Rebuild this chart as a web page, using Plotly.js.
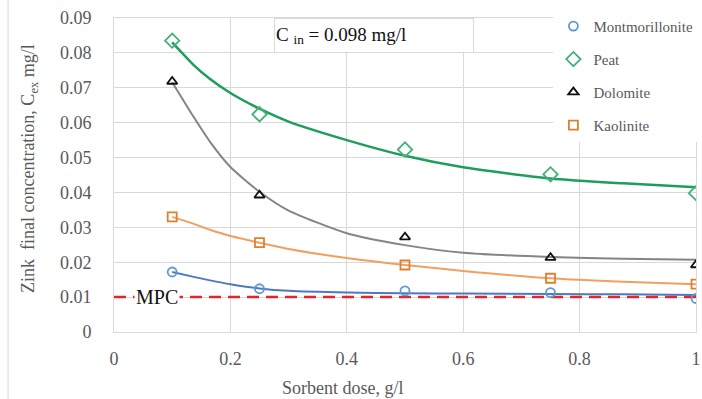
<!DOCTYPE html>
<html>
<head>
<meta charset="utf-8">
<script src="https://cdn.plot.ly/plotly-3.0.1.min.js"></script>
<style>html,body{margin:0;padding:0;background:#fff;}#chart{width:702px;height:399px;}</style>
</head>
<body>
<div id="chart"></div>
<script>
// Measured points
const doses = [0.1, 0.25, 0.5, 0.75, 1];
const montmorillonite = [0.0172, 0.0124, 0.0118, 0.0113, 0.0096];
const peat = [0.0835, 0.0624, 0.0523, 0.0452, 0.0398];
const dolomite = [0.0718, 0.0392, 0.0272, 0.0213, 0.0192];
const kaolinite = [0.0330, 0.0256, 0.0192, 0.0154, 0.0137];

// Fitted curves
const curveX = [0.1, 0.137, 0.165, 0.2, 0.25, 0.3, 0.4, 0.5, 0.6, 0.75, 0.875, 1];
const montCurve = [0.0172, 0.0158, 0.0148, 0.0137, 0.0125, 0.0118, 0.0113, 0.0111, 0.0110, 0.0109, 0.0108, 0.0106];
const peatCurve = [0.0830, 0.0765, 0.0725, 0.0685, 0.0640, 0.0603, 0.0550, 0.0505, 0.0472, 0.0440, 0.0426, 0.0415];
const doloCurve = [0.0716, 0.0616, 0.0545, 0.0473, 0.0402, 0.0348, 0.0283, 0.0249, 0.0227, 0.0215, 0.0210, 0.0207];
const kaolCurve = [0.0330, 0.0310, 0.0293, 0.0275, 0.0256, 0.0238, 0.0212, 0.0192, 0.0175, 0.0154, 0.0144, 0.0137];

const mpcX = [0, 1];
const mpcY = [0.01, 0.01];

const xTicks = [0, 0.2, 0.4, 0.6, 0.8, 1];
const xTickText = ['0', '0.2', '0.4', '0.6', '0.8', '1'];
const yTicks = [0, 0.01, 0.02, 0.03, 0.04, 0.05, 0.06, 0.07, 0.08, 0.09];
const yTickText = ['0', '0.01', '0.02', '0.03', '0.04', '0.05', '0.06', '0.07', '0.08', '0.09'];

const serif = "Liberation Serif";

function curve(x, y, color, width) {
  return {x: x, y: y, mode: 'lines', line: {color: color, width: width, shape: 'spline', smoothing: 0.6},
          showlegend: false, hoverinfo: 'skip'};
}
function pts(name, y, symbol, color, size, group) {
  return {x: doses, y: y, name: name, mode: 'markers', legendgroup: group,
          marker: {symbol: symbol, size: size, color: color, line: {color: color, width: 1.8}}};
}

const data = [
  {x: mpcX, y: mpcY, mode: 'lines', line: {color: '#E3262B', width: 2.5, dash: '12px,7px'}, showlegend: false, hoverinfo: 'skip'},
  curve(curveX, montCurve, '#4F78C0', 2),
  curve(curveX, peatCurve, '#1E9E5A', 2.5),
  curve(curveX, doloCurve, '#858585', 2),
  curve(curveX, kaolCurve, '#F0A060', 2),
  pts('Montmorillonite', montmorillonite, 'circle-open', '#5B9BD5', 9, 'a'),
  pts('Peat', peat, 'diamond-open', '#46B07A', 11, 'b'),
  pts('Dolomite', dolomite, 'triangle-up-open', '#111111', 9, 'c'),
  pts('Kaolinite', kaolinite, 'square-open', '#E0802E', 9, 'd')
];

const layout = {
  width: 702, height: 399,
  margin: {l: 114, r: 6, t: 18, b: 67, autoexpand: false},
  paper_bgcolor: '#ffffff', plot_bgcolor: '#ffffff',
  font: {family: serif, color: '#595959', size: 18},
  showlegend: true,
  legend: {x: 0.755, y: 1.026, xanchor: 'left', yanchor: 'top', bgcolor: '#ffffff',
           font: {family: serif, size: 15, color: '#595959'}, traceorder: 'grouped', tracegroupgap: 10.5,
           itemwidth: 30},
  xaxis: {range: [0, 1], tickvals: xTicks, ticktext: xTickText, showgrid: true, gridcolor: '#D9D9D9',
          zeroline: false, showline: true, mirror: true, linecolor: '#D9D9D9', linewidth: 1,
          ticks: 'outside', ticklen: 10, tickcolor: 'rgba(0,0,0,0)', automargin: false,
          tickfont: {family: serif, size: 18, color: '#595959'}, fixedrange: true},
  yaxis: {range: [0, 0.09], tickvals: yTicks, ticktext: yTickText, showgrid: true, gridcolor: '#D9D9D9',
          zeroline: false, showline: true, mirror: true, linecolor: '#D9D9D9', linewidth: 1,
          ticks: 'outside', ticklen: 18, tickcolor: 'rgba(0,0,0,0)', automargin: false,
          tickfont: {family: serif, size: 18, color: '#595959'}, fixedrange: true},
  shapes: [
    {type: 'line', xref: 'paper', yref: 'paper', x0: -0.182, x1: -0.182, y0: -0.3, y1: 1.1,
     line: {color: '#D9D9D9', width: 1}}
  ],
  annotations: [
    {text: 'MPC', x: 0.074, y: 0.01, xref: 'x', yref: 'y', showarrow: false, bgcolor: '#ffffff',
     font: {family: serif, size: 20, color: '#111111'}, borderpad: 1},
    {text: 'C <sub>in</sub> = 0.098 mg/l', xref: 'paper', yref: 'paper', x: 0.275, y: 1.0,
     xanchor: 'left', yanchor: 'top', showarrow: false, width: 196, height: 31, align: 'left',
     bgcolor: '#ffffff', bordercolor: '#D9D9D9', borderwidth: 1, borderpad: 1,
     font: {family: serif, size: 19, color: '#111111'}},
    {text: 'Sorbent dose, g/l', xref: 'paper', yref: 'paper', x: 0.393, y: -0.178,
     xanchor: 'center', yanchor: 'middle', showarrow: false,
     font: {family: serif, size: 18, color: '#595959'}},
    {text: 'Zink  final concentration, C<sub>ex</sub> mg/l', xref: 'paper', yref: 'paper', x: -0.146, y: 0.519,
     xanchor: 'center', yanchor: 'middle', textangle: -90, showarrow: false,
     font: {family: serif, size: 18, color: '#595959'}}
  ]
};

Plotly.newPlot('chart', data, layout, {displayModeBar: false, staticPlot: true});
</script>
</body>
</html>
